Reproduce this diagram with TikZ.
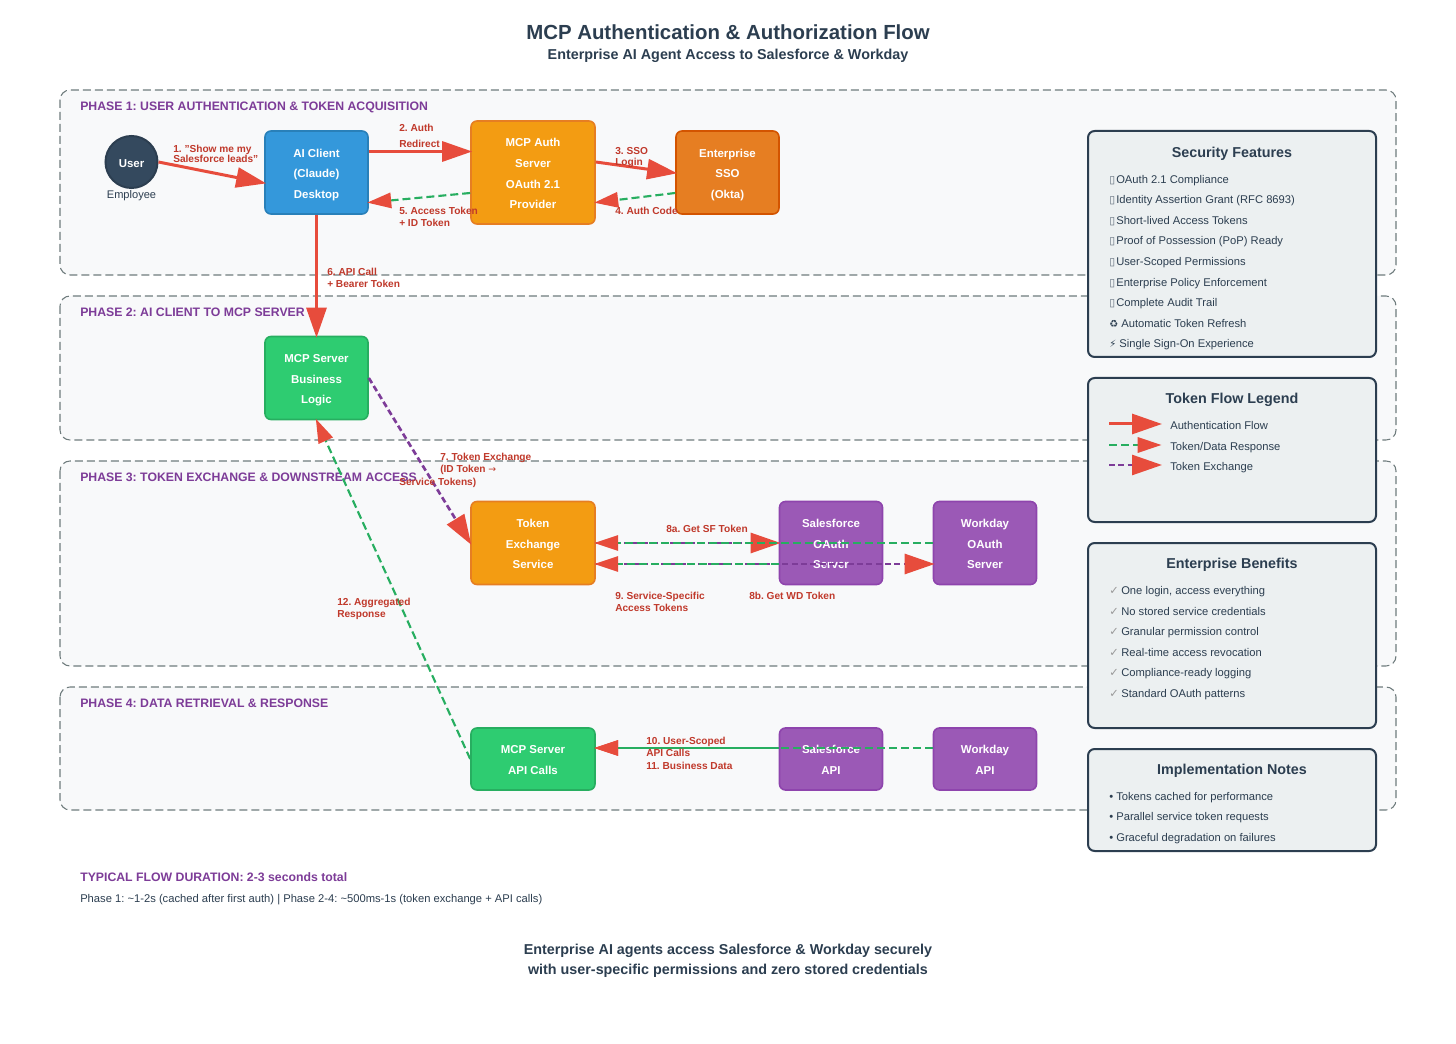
\documentclass[tikz,border=0pt]{standalone}
\usepackage{fontspec}
\setmainfont{Liberation Sans}
\newfontfamily\symf{DejaVu Sans}
\usetikzlibrary{arrows.meta,calc}
\definecolor{ink}{HTML}{2C3E50}
\definecolor{userfill}{HTML}{34495E}
\definecolor{arrowred}{HTML}{E74C3C}
\definecolor{lblred}{HTML}{C0392B}
\definecolor{phasepurple}{HTML}{7D3C98}
\definecolor{flowgreen}{HTML}{27AE60}
\definecolor{flowpurple}{HTML}{7D3C98}
\definecolor{svcblue}{HTML}{3498DB}
\definecolor{svcblueD}{HTML}{2980B9}
\definecolor{svcorange}{HTML}{F39C12}
\definecolor{svcorangeD}{HTML}{E67E22}
\definecolor{svcorangeE}{HTML}{D35400}
\definecolor{svcgreen}{HTML}{2ECC71}
\definecolor{svcpurple}{HTML}{9B59B6}
\definecolor{svcpurpleD}{HTML}{8E44AD}
\definecolor{panelfill}{HTML}{ECF0F1}
\definecolor{phasefill}{HTML}{F8F9FA}
\definecolor{phaseline}{HTML}{6F7C7D}
\newcommand{\fs}[2]{\fontsize{#1pt}{#2pt}\selectfont}
\newcommand{\tofu}{\makebox[5.25pt][l]{\symf\fontsize{8pt}{9pt}\selectfont\color{ink!75}▯}}
\newcommand{\chk}{\makebox[9pt][l]{\symf\fontsize{8.5pt}{9pt}\selectfont\color{gray!80}✓}}
\newcommand{\bt}[1]{\raisebox{-3.1pt}[0pt][0pt]{\begin{tabular}{@{}c@{}}#1\end{tabular}}}
\tikzset{
  phasebox/.style={draw=phaseline,fill=phasefill,dash pattern=on 6pt off 3pt,line width=0.8pt,rounded corners=7.5pt},
  panelbox/.style={draw=ink,fill=panelfill,line width=1.5pt,rounded corners=5pt},
  svc/.style={rectangle,rounded corners=4.5pt,line width=1.2pt,text=white,inner sep=0pt,font=\frenchspacing\bfseries\fs{8.6}{15.4}},
  bluebox/.style={svc,draw=svcblueD,fill=svcblue},
  orangebox/.style={svc,draw=svcorangeD,fill=svcorange},
  darkorange/.style={svc,draw=svcorangeE,fill=svcorangeD},
  greenbox/.style={svc,draw=flowgreen,fill=svcgreen},
  purplebox/.style={svc,draw=svcpurpleD,fill=svcpurple},
  sizeA/.style={minimum width=77.25pt,minimum height=62.25pt},
  sizeB/.style={minimum width=93pt,minimum height=62.25pt},
  sizeC/.style={minimum width=93pt,minimum height=77.25pt},
  sizeD/.style={minimum width=93pt,minimum height=46.5pt},
  sizeE/.style={minimum width=77.25pt,minimum height=46.5pt},
  lbl/.style={anchor=mid west,inner sep=0pt,text=lblred,font=\frenchspacing\bfseries\fs{7.6}{9}},
  phaselbl/.style={anchor=mid west,inner sep=0pt,text=phasepurple,font=\frenchspacing\bfseries\fs{9.2}{11}},
  ptitle/.style={inner sep=0pt,text=ink,font=\bfseries\fs{10.75}{13}},
  pitem/.style={anchor=mid west,inner sep=0pt,text=ink,font=\frenchspacing\fs{8.4}{10}},
  flowred/.style={draw=arrowred,line width=2.25pt,shorten >=-1.5pt,-{Triangle[length=22.5pt,width=15pt,color=arrowred]}},
  flowgr/.style={draw=flowgreen,line width=1.6pt,shorten >=-1.2pt,dash pattern=on 6pt off 3pt,-{Triangle[length=18pt,width=11.5pt,color=arrowred]}},
  flowpu/.style={draw=flowpurple,line width=2pt,shorten >=-1.5pt,dash pattern=on 4.5pt off 2.5pt,-{Triangle[length=22.5pt,width=15pt,color=arrowred]}},
}
\begin{document}
\begin{tikzpicture}[x=0.75pt,y=-0.75pt]
\useasboundingbox (0,0) rectangle (1456,1044);
\fill[white] (0,0) rectangle (1456,1044);
% titles
\node[inner sep=0pt,text=ink,font=\bfseries\fs{15.3}{20}] (title) at (728,32) {MCP Authentication \& Authorization Flow};
\node[inner sep=0pt,text=ink,font=\bfseries\fs{10.75}{13}] (subtitle) at (728,55.5) {Enterprise AI Agent Access to Salesforce \& Workday};
% phases
\draw[phasebox] (60,90) rectangle (1396,275);
\draw[phasebox] (60,296) rectangle (1396,440);
\draw[phasebox] (60,461) rectangle (1396,666);
\draw[phasebox] (60,687) rectangle (1396,810);
\node[phaselbl] (ph1) at (80,107) {PHASE 1: USER AUTHENTICATION \& TOKEN ACQUISITION};
\node[phaselbl] (ph2) at (80,312.5) {PHASE 2: AI CLIENT TO MCP SERVER};
\node[phaselbl] (ph3) at (80,477.5) {PHASE 3: TOKEN EXCHANGE \& DOWNSTREAM ACCESS};
\node[phaselbl] (ph4) at (80,703.5) {PHASE 4: DATA RETRIEVAL \& RESPONSE};
% service nodes
\node[circle,draw=ink,fill=userfill,line width=1.5pt,minimum size=39pt,inner sep=0pt,text=white,font=\bfseries\fs{8.6}{11}] (user) at (131.5,162) {\raisebox{-3.85pt}[0pt][0pt]{User}};
\node[inner sep=0pt,text=ink,font=\fs{8.3}{10}] (emp) at (131.5,195.5) {Employee};
\node[bluebox,sizeA] (aic) at (316.5,172.5) {\bt{AI Client\\(Claude)\\Desktop}};
\node[orangebox,sizeC] (auth) at (533,172.5) {\bt{MCP Auth\\Server\\OAuth 2.1\\Provider}};
\node[darkorange,sizeA] (sso) at (727.5,172.5) {\bt{Enterprise\\SSO\\(Okta)}};
\node[greenbox,sizeA] (mcs) at (316.5,378) {\bt{MCP Server\\Business\\Logic}};
\node[orangebox,sizeB] (tex) at (533,543) {\bt{Token\\Exchange\\Service}};
\node[purplebox,sizeE,minimum height=62.25pt] (sfo) at (831,543) {\bt{Salesforce\\OAuth\\Server}};
\node[purplebox,sizeE,minimum height=62.25pt] (wdo) at (985,543) {\bt{Workday\\OAuth\\Server}};
\node[greenbox,sizeD] (mapi) at (533,759) {\bt{MCP Server\\API Calls}};
\node[purplebox,sizeE] (sfa) at (831,759) {\bt{Salesforce\\API}};
\node[purplebox,sizeE] (wda) at (985,759) {\bt{Workday\\API}};
% connectors
\draw[flowred] (user.east) -- ($(aic.west)+(0,10.5)$);
\draw[flowred] ($(aic.east)+(0,-21)$) -- ($(auth.west)+(0,-21)$);
\draw[flowred] ($(auth.east)+(0,-10.5)$) -- ($(sso.west)+(0,0.5)$);
\draw[flowgr] ($(auth.west)+(0,20.5)$) -- ($(aic.east)+(0,30)$);
\draw[flowgr] ($(sso.west)+(0,20.5)$) -- ($(auth.east)+(0,30)$);
\draw[flowred] (aic.south) -- (mcs.north);
\draw[flowpu] (mcs.east) -- (tex.west);
\draw[flowpu] (tex.east) -- (sfo.west);
\draw[flowpu] ($(tex.east)+(0,21)$) -- ($(wdo.west)+(0,21)$);
\draw[flowgr] (wdo.west) -- (tex.east);
\draw[flowgr] ($(sfo.west)+(0,21)$) -- ($(tex.east)+(0,21)$);
\draw[flowgr,dash pattern=on 100pt off 0pt] ($(sfa.west)+(0,-11)$) -- ($(mapi.east)+(0,-11)$);
\draw[flowgr] ($(wda.west)+(0,-11)$) -- ($(mapi.east)+(0,-11)$);
\draw[flowgr] (mapi.west) -- (mcs.south);
% connector labels
\node[lbl] (l1a) at (173,148.5) {1. "Show me my};
\node[lbl] (l1b) at (173,158.5) {Salesforce leads"};
\node[lbl] (l2a) at (399,128) {2. Auth};
\node[lbl] (l2b) at (399,143.5) {Redirect};
\node[lbl] (l3a) at (615,151) {3. SSO};
\node[lbl] (l3b) at (615,161.5) {Login};
\node[lbl] (l4) at (615,210.5) {4. Auth Code};
\node[lbl] (l5a) at (399,210.5) {5. Access Token};
\node[lbl] (l5b) at (399,222.5) {+ ID Token};
\node[lbl] (l6a) at (327,272) {6. API Call};
\node[lbl] (l6b) at (327,284) {+ Bearer Token};
\node[lbl] (l7a) at (440,457) {7. Token Exchange};
\node[lbl] (l7b) at (440,469) {(ID Token {\symf\fs{7}{9}\mdseries →}};
\node[lbl] (l7c) at (399,481.5) {Service Tokens)};
\node[lbl] (l8a) at (666,528.5) {8a. Get SF Token};
\node[lbl] (l8b) at (749,596) {8b. Get WD Token};
\node[lbl] (l9a) at (615,596) {9. Service-Specific};
\node[lbl] (l9b) at (615,608) {Access Tokens};
\node[lbl] (l10a) at (646,740.5) {10. User-Scoped};
\node[lbl] (l10b) at (646,752.5) {API Calls};
\node[lbl] (l11) at (646,765.5) {11. Business Data};
\node[lbl] (l12a) at (337,601.5) {12. Aggregated};
\node[lbl] (l12b) at (337,613.5) {Response};
% panels
\draw[panelbox] (1088,131) rectangle (1376,357);
\draw[panelbox] (1088,378) rectangle (1376,522);
\draw[panelbox] (1088,543) rectangle (1376,728);
\draw[panelbox] (1088,749) rectangle (1376,851);
\node[ptitle] (t1) at (1232,153.5) {Security Features};
\node[pitem] (s1) at (1109,179.5) {\tofu OAuth 2.1 Compliance};
\node[pitem] (s2) at (1109,200) {\tofu Identity Assertion Grant (RFC 8693)};
\node[pitem] (s3) at (1109,220.5) {\tofu Short-lived Access Tokens};
\node[pitem] (s4) at (1109,241) {\tofu Proof of Possession (PoP) Ready};
\node[pitem] (s5) at (1109,261.5) {\tofu User-Scoped Permissions};
\node[pitem] (s6) at (1109,282.5) {\tofu Enterprise Policy Enforcement};
\node[pitem] (s7) at (1109,303) {\tofu Complete Audit Trail};
\node[pitem] (s8) at (1109,323.5) {{\symf\fs{7.5}{9}♻}\ Automatic Token Refresh};
\node[pitem] (s9) at (1109,344) {{\symf\fs{7.5}{9}⚡}\ Single Sign-On Experience};
\node[ptitle] (t2) at (1232,400) {Token Flow Legend};
\coordinate (k1a) at (1109,424); \coordinate (k1b) at (1160,424);
\coordinate (k2a) at (1109,445); \coordinate (k2b) at (1160,445);
\coordinate (k3a) at (1109,465); \coordinate (k3b) at (1160,465);
\draw[flowred] (k1a) -- (k1b);
\draw[flowgr] (k2a) -- (k2b);
\draw[flowpu] (k3a) -- (k3b);
\node[pitem] (k1) at (1170,426) {Authentication Flow};
\node[pitem] (k2) at (1170,446.5) {Token/Data Response};
\node[pitem] (k3) at (1170,467) {Token Exchange};
\node[ptitle] (t3) at (1232,565) {Enterprise Benefits};
\node[pitem] (b1) at (1109,591) {\chk One login, access everything};
\node[pitem] (b2) at (1109,611.5) {\chk No stored service credentials};
\node[pitem] (b3) at (1109,632) {\chk Granular permission control};
\node[pitem] (b4) at (1109,652.5) {\chk Real-time access revocation};
\node[pitem] (b5) at (1109,673) {\chk Compliance-ready logging};
\node[pitem] (b6) at (1109,693.5) {\chk Standard OAuth patterns};
\node[ptitle] (t4) at (1232,771) {Implementation Notes};
\node[pitem] (n1) at (1109,796.5) {• Tokens cached for performance};
\node[pitem] (n2) at (1109,817) {• Parallel service token requests};
\node[pitem] (n3) at (1109,837.5) {• Graceful degradation on failures};
% bottom
\node[phaselbl] (dur) at (80,878) {TYPICAL FLOW DURATION: 2-3 seconds total};
\node[pitem] (dur2) at (80,899) {Phase 1: \textasciitilde 1-2s (cached after first auth) | Phase 2-4: \textasciitilde 500ms-1s (token exchange + API calls)};
\node[inner sep=0pt,text=ink,font=\bfseries\fs{10.75}{13}] (f1) at (728,951) {Enterprise AI agents access Salesforce \& Workday securely};
\node[inner sep=0pt,text=ink,font=\bfseries\fs{10.75}{13}] (f2) at (728,971) {with user-specific permissions and zero stored credentials};
\end{tikzpicture}
\end{document}
